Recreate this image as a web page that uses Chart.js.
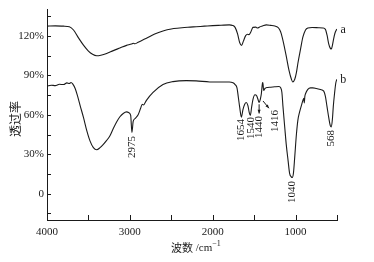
<!DOCTYPE html>
<html>
<head>
<meta charset="utf-8">
<script src="https://cdn.jsdelivr.net/npm/chart.js@4.4.1/dist/chart.umd.min.js"></script>
<style>
    html, body { margin: 0; padding: 0; background: #fff; }
</style>
</head>
<body>
<canvas id="irChart" width="374" height="262"></canvas>
<script>
// --- Spectrum a ---
const wavenumbersA = [4000, 3900, 3800, 3730, 3680, 3620, 3560, 3500, 3450, 3400, 3350, 3280, 3200, 3120, 3040, 2980, 2960, 2940, 2900, 2800, 2700, 2600, 2500, 2400, 2300, 2200, 2100, 2000, 1900, 1800, 1760, 1730, 1700, 1675, 1651, 1630, 1602, 1580, 1563, 1540, 1514, 1480, 1460, 1434, 1400, 1353, 1300, 1250, 1213, 1190, 1172, 1140, 1112, 1080, 1050, 1033, 1010, 990, 972, 940, 912, 880, 852, 800, 720, 671, 640, 620, 600, 580, 568, 555, 540, 525, 502];
const transA = [127.4, 127.6, 127.4, 127.0, 124.5, 118.5, 113.0, 108.5, 106.0, 104.9, 105.3, 106.6, 108.8, 110.8, 112.8, 113.8, 114.4, 114.0, 115.2, 118.2, 121.5, 123.8, 125.3, 126.0, 126.6, 127.0, 127.4, 127.8, 128.1, 128.4, 128.0, 126.5, 121.5, 115.0, 112.8, 116.0, 120.2, 121.2, 121.0, 123.0, 126.5, 126.7, 126.0, 126.8, 127.5, 128.4, 128.0, 127.5, 126.5, 124.5, 121.5, 113.0, 104.4, 94.0, 87.0, 85.0, 87.0, 92.0, 99.2, 110.0, 119.0, 124.5, 126.0, 126.4, 126.2, 126.0, 125.0, 120.5, 114.0, 110.5, 110.0, 113.0, 118.0, 122.0, 125.2];

// --- Spectrum b ---
const wavenumbersB = [4000, 3950, 3900, 3850, 3800, 3760, 3730, 3710, 3690, 3660, 3630, 3600, 3560, 3520, 3480, 3440, 3400, 3360, 3320, 3280, 3240, 3200, 3160, 3120, 3080, 3040, 3010, 2990, 2975, 2960, 2940, 2900, 2870, 2850, 2835, 2800, 2720, 2600, 2480, 2320, 2200, 2036, 1900, 1800, 1755, 1730, 1707, 1690, 1675, 1654, 1635, 1614, 1594, 1575, 1560, 1546, 1530, 1514, 1490, 1470, 1454, 1440, 1425, 1413, 1400, 1395, 1385, 1370, 1340, 1300, 1250, 1200, 1180, 1165, 1153, 1130, 1112, 1090, 1072, 1052, 1040, 1025, 1010, 990, 972, 952, 930, 912, 900, 895, 888, 880, 852, 820, 792, 750, 700, 660, 640, 620, 600, 582, 568, 555, 545, 530, 515, 502];
const transB = [81.8, 82.5, 82.2, 83.2, 83.0, 84.3, 83.8, 84.6, 83.5, 80.0, 74.0, 67.0, 58.0, 48.0, 40.0, 35.0, 33.4, 35.0, 37.5, 40.5, 44.0, 49.5, 54.5, 58.5, 61.0, 62.2, 61.5, 59.5, 46.5, 55.0, 57.0, 60.0, 65.0, 68.0, 67.5, 71.0, 77.0, 83.0, 85.2, 86.0, 85.8, 85.0, 84.9, 85.0, 84.3, 83.0, 80.5, 73.0, 66.0, 58.2, 64.0, 68.1, 69.4, 67.0, 62.0, 59.5, 66.0, 71.8, 75.2, 74.5, 71.8, 69.4, 72.0, 76.0, 83.9, 84.5, 78.5, 80.0, 80.8, 81.0, 81.3, 81.5, 80.5, 77.0, 67.0, 50.0, 37.1, 25.0, 15.5, 12.8, 12.3, 16.0, 28.0, 45.0, 56.0, 62.0, 67.0, 70.9, 72.5, 69.0, 74.0, 76.0, 79.3, 80.5, 80.5, 80.0, 79.2, 78.0, 74.0, 66.0, 58.0, 52.0, 50.8, 57.0, 66.0, 76.0, 84.0, 87.0];

// --- Axes ---
const xTickLabels = [4000, 3000, 2000, 1000];
const xTickMarks = [3500, 3000, 2500, 2000, 1500, 1000, 500];
const yTickLabels = [0, 30, 60, 90, 120];
const yTickMarks = [-15, 0, 15, 30, 45, 60, 75, 90, 105, 120, 135];

// --- Peak annotations (text, wavenumber, top of text in %) ---
const peakTexts = ['2975', '1654', '1540', '1440', '1416', '1040', '568'];
const peakWn = [2975, 1654, 1540, 1440, 1250, 1040, 568];
const peakTop = [43.5, 57.0, 58.5, 59.0, 63.5, 9.5, 48.5];

// arrows: [wnFrom, pctFrom, wnTo, pctTo]
const arrowLines = [
    [1440, 68.0, 1440, 61.0],
    [1393, 70.5, 1321, 65.0]
];

// curve labels
const curveNames = ['a', 'b'];
const curveNameWn = [458, 462];
const curveNamePct = [124.5, 86.5];

const serif = '"Liberation Serif", "Times New Roman", serif';
const cjk = '"Noto Sans CJK SC", sans-serif';
const ink = '#1a1a1a';

const toPoints = (xs, ys) => xs.map((x, i) => ({ x: x, y: ys[i] }));

const decorPlugin = {
    id: 'decor',
    afterDraw(chart) {
        const ctx = chart.ctx;
        const xs = chart.scales.x;
        const ys = chart.scales.y;
        const { left, right, top, bottom } = chart.chartArea;
        ctx.save();
        ctx.strokeStyle = ink;
        ctx.fillStyle = ink;
        ctx.lineWidth = 1;

        // inward tick marks
        ctx.beginPath();
        yTickMarks.forEach(v => {
            const y = Math.round(ys.getPixelForValue(v)) + 0.5;
            ctx.moveTo(left, y);
            ctx.lineTo(left + 4, y);
        });
        xTickMarks.forEach(v => {
            const x = Math.round(xs.getPixelForValue(v)) + 0.5;
            ctx.moveTo(x, bottom);
            ctx.lineTo(x, bottom - 5);
        });
        ctx.stroke();

        // rotated peak labels
        ctx.font = '11px ' + serif;
        ctx.textAlign = 'right';
        ctx.textBaseline = 'middle';
        peakTexts.forEach((t, i) => {
            ctx.save();
            ctx.translate(Math.round(xs.getPixelForValue(peakWn[i])), Math.round(ys.getPixelForValue(peakTop[i])));
            ctx.rotate(-Math.PI / 2);
            ctx.fillText(t, 0, 0);
            ctx.restore();
        });

        // arrows
        arrowLines.forEach(a => {
            const x1 = xs.getPixelForValue(a[0]), y1 = ys.getPixelForValue(a[1]);
            const x2 = xs.getPixelForValue(a[2]), y2 = ys.getPixelForValue(a[3]);
            const ang = Math.atan2(y2 - y1, x2 - x1);
            ctx.beginPath();
            ctx.moveTo(x1, y1);
            ctx.lineTo(x2, y2);
            ctx.stroke();
            ctx.beginPath();
            ctx.moveTo(x2, y2);
            ctx.lineTo(x2 - 4 * Math.cos(ang - 0.4), y2 - 4 * Math.sin(ang - 0.4));
            ctx.lineTo(x2 - 4 * Math.cos(ang + 0.4), y2 - 4 * Math.sin(ang + 0.4));
            ctx.closePath();
            ctx.fill();
        });

        // curve names
        ctx.font = '12px ' + serif;
        ctx.textAlign = 'left';
        curveNames.forEach((n, i) => {
            ctx.fillText(n, xs.getPixelForValue(curveNameWn[i]), ys.getPixelForValue(curveNamePct[i]));
        });

        // y title
        ctx.save();
        ctx.translate(15, Math.round((top + bottom) / 2) + 4);
        ctx.rotate(-Math.PI / 2);
        ctx.font = '12px ' + cjk;
        ctx.textAlign = 'center';
        ctx.textBaseline = 'middle';
        ctx.fillText('透过率', 0, 0);
        ctx.restore();

        // x title: 波数 /cm^-1
        const cx = (left + right) / 2 + 4;
        const ty = bottom + 28;
        const p1 = '波数', p2 = ' /cm', p3 = '\u22121';
        ctx.textBaseline = 'middle';
        ctx.font = '11px ' + cjk;
        const w1 = ctx.measureText(p1).width;
        ctx.font = '11px ' + serif;
        const w2 = ctx.measureText(p2).width;
        ctx.font = '8px ' + serif;
        const w3 = ctx.measureText(p3).width;
        const x0 = Math.round(cx - (w1 + w2 + w3) / 2);
        ctx.textAlign = 'left';
        ctx.font = '11px ' + cjk;
        ctx.fillText(p1, x0, ty);
        ctx.font = '11px ' + serif;
        ctx.fillText(p2, x0 + w1, ty);
        ctx.font = '8px ' + serif;
        ctx.fillText(p3, x0 + w1 + w2, ty - 4);

        ctx.restore();
    }
};

const chartCtx = document.getElementById('irChart');
new Chart(chartCtx, {
    type: 'scatter',
    data: {
        datasets: [{
            label: 'a',
            data: toPoints(wavenumbersA, transA),
            showLine: true,
            borderColor: ink,
            borderWidth: 1.1,
            pointRadius: 0,
            cubicInterpolationMode: 'monotone'
        }, {
            label: 'b',
            data: toPoints(wavenumbersB, transB),
            showLine: true,
            borderColor: ink,
            borderWidth: 1.1,
            pointRadius: 0,
            cubicInterpolationMode: 'monotone'
        }]
    },
    options: {
        responsive: false,
        animation: false,
        layout: { padding: { left: 0, right: 37, top: 6, bottom: 0 } },
        plugins: {
            legend: { display: false },
            tooltip: { enabled: false }
        },
        scales: {
            x: {
                type: 'linear',
                reverse: true,
                min: 500,
                max: 4000,
                afterBuildTicks: s => { s.ticks = xTickLabels.map(v => ({ value: v })); },
                afterFit: s => { s.height = 42; },
                ticks: {
                    font: { family: serif, size: 11 },
                    color: ink,
                    padding: 6,
                    maxRotation: 0,
                    autoSkip: false,
                    callback: v => String(v)
                },
                grid: { display: true, drawOnChartArea: false, drawTicks: false },
                border: { display: true, color: ink, width: 1 }
            },
            y: {
                min: -20,
                max: 140,
                afterBuildTicks: s => { s.ticks = yTickLabels.map(v => ({ value: v })); },
                afterFit: s => { s.width = 47; },
                ticks: {
                    font: { family: serif, size: 11 },
                    color: ink,
                    padding: 3,
                    callback: v => v === 0 ? '0' : v + '%'
                },
                grid: { display: true, drawOnChartArea: false, drawTicks: false },
                border: { display: true, color: ink, width: 1 }
            }
        }
    },
    plugins: [decorPlugin]
});
</script>
</body>
</html>
